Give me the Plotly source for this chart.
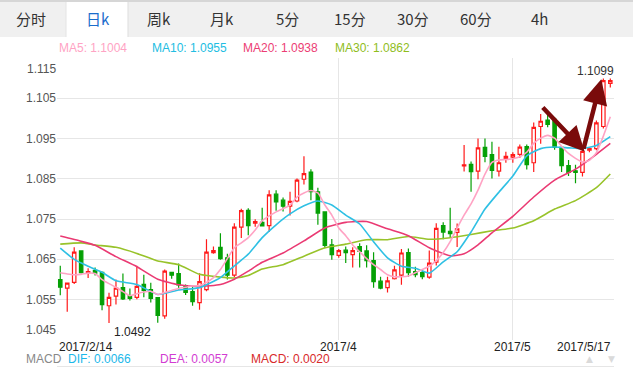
import plotly.graph_objects as go

# ---------------- data ----------------
opens = [1.0600, 1.0579, 1.0593, 1.0671, 1.0617, 1.0623, 1.0618, 1.0535, 1.0559, 1.0580,
         1.0560, 1.0556, 1.0588, 1.0575, 1.0555, 1.0510, 1.0618, 1.0615, 1.0585, 1.0570,
         1.0543, 1.0575, 1.0667, 1.0680, 1.0654, 1.0611, 1.0730, 1.0772, 1.0740, 1.0742,
         1.0734, 1.0812, 1.0797, 1.0782, 1.0795, 1.0849, 1.0867, 1.0818, 1.0768, 1.0686,
         1.0660, 1.0673, 1.0662, 1.0682, 1.0671, 1.0647, 1.0596, 1.0580, 1.0602, 1.0611,
         1.0667, 1.0620, 1.0617, 1.0606, 1.0643, 1.0734, 1.0720, 1.0717, 1.0882, 1.0886,
         1.0869, 1.0928, 1.0910, 1.0869, 1.0901, 1.0904, 1.0911, 1.0930, 1.0890, 1.0980,
         1.0996, 1.0998, 1.0928, 1.0883, 1.0870, 1.0866, 1.0921, 1.0925, 1.0980, 1.1087]
highs = [1.0634, 1.0593, 1.0680, 1.0673, 1.0628, 1.0630, 1.0620, 1.0567, 1.0600, 1.0615,
         1.0578, 1.0634, 1.0612, 1.0592, 1.0557, 1.0625, 1.0618, 1.0640, 1.0588, 1.0582,
         1.0616, 1.0700, 1.0682, 1.0715, 1.0664, 1.0740, 1.0776, 1.0777, 1.0750, 1.0778,
         1.0822, 1.0822, 1.0804, 1.0818, 1.0851, 1.0906, 1.0874, 1.0828, 1.0768, 1.0701,
         1.0676, 1.0682, 1.0680, 1.0690, 1.0685, 1.0668, 1.0607, 1.0607, 1.0634, 1.0676,
         1.0677, 1.0632, 1.0624, 1.0672, 1.0740, 1.0742, 1.0778, 1.0739, 1.0934, 1.0893,
         1.0950, 1.0950, 1.0942, 1.0930, 1.0917, 1.0916, 1.0935, 1.0935, 1.0990, 1.1011,
         1.1018, 1.1003, 1.0930, 1.0897, 1.0885, 1.0929, 1.0928, 1.0995, 1.1099, 1.1099]
lows = [1.0561, 1.0520, 1.0589, 1.0615, 1.0604, 1.0610, 1.0524, 1.0492, 1.0538, 1.0549,
        1.0548, 1.0551, 1.0556, 1.0543, 1.0493, 1.0503, 1.0602, 1.0575, 1.0562, 1.0535,
        1.0525, 1.0571, 1.0664, 1.0649, 1.0600, 1.0606, 1.0703, 1.0710, 1.0731, 1.0733,
        1.0718, 1.0771, 1.0769, 1.0759, 1.0792, 1.0836, 1.0797, 1.0736, 1.0678, 1.0649,
        1.0654, 1.0641, 1.0630, 1.0630, 1.0630, 1.0580, 1.0576, 1.0568, 1.0600, 1.0587,
        1.0607, 1.0606, 1.0601, 1.0602, 1.0635, 1.0700, 1.0704, 1.0681, 1.0868, 1.0818,
        1.0849, 1.0891, 1.0851, 1.0856, 1.0890, 1.0890, 1.0902, 1.0873, 1.0867, 1.0937,
        1.0978, 1.0922, 1.0867, 1.0857, 1.0839, 1.0856, 1.0916, 1.0921, 1.0975, 1.1077]
closes = [1.0581, 1.0591, 1.0668, 1.0617, 1.0620, 1.0616, 1.0538, 1.0556, 1.0579, 1.0552,
          1.0553, 1.0583, 1.0573, 1.0553, 1.0511, 1.0621, 1.0611, 1.0587, 1.0568, 1.0545,
          1.0595, 1.0668, 1.0672, 1.0652, 1.0611, 1.0730, 1.0771, 1.0734, 1.0744, 1.0733,
          1.0810, 1.0793, 1.0782, 1.0794, 1.0847, 1.0863, 1.0818, 1.0765, 1.0685, 1.0662,
          1.0672, 1.0667, 1.0672, 1.0670, 1.0647, 1.0595, 1.0579, 1.0597, 1.0624, 1.0666,
          1.0617, 1.0612, 1.0607, 1.0641, 1.0727, 1.0718, 1.0714, 1.0726, 1.0885, 1.0868,
          1.0927, 1.0906, 1.0871, 1.0890, 1.0906, 1.0910, 1.0929, 1.0885, 1.0978, 1.0993,
          1.0985, 1.0928, 1.0883, 1.0866, 1.0866, 1.0918, 1.0925, 1.0989, 1.1094, 1.1094]
candle_idx = list(range(len(closes)))

ma5_idx = list(range(0, 80))
ma5 = [1.0617, 1.0614, 1.0612, 1.0613, 1.0616, 1.0615, 1.0600, 1.0590, 1.0581, 1.0570,
       1.0560, 1.0565, 1.0569, 1.0571, 1.0563, 1.0568, 1.0573, 1.0578, 1.0581, 1.0584,
       1.0585, 1.0593, 1.0605, 1.0625, 1.0652, 1.0679, 1.0691, 1.0704, 1.0723, 1.0746,
       1.0758, 1.0768, 1.0776, 1.0785, 1.0805, 1.0815, 1.0821, 1.0815, 1.0785, 1.0760,
       1.0728, 1.0709, 1.0686, 1.0669, 1.0652, 1.0637, 1.0625, 1.0612, 1.0607, 1.0607,
       1.0609, 1.0617, 1.0625, 1.0633, 1.0647, 1.0667, 1.0694, 1.0728, 1.0760, 1.0788,
       1.0822, 1.0862, 1.0891, 1.0897, 1.0898, 1.0900, 1.0905, 1.0916, 1.0938, 1.0951,
       1.0958, 1.0951, 1.0931, 1.0913, 1.0901, 1.0892, 1.0896, 1.0915, 1.0956, 1.1004]

ma10_idx = [0, 2, 4, 6, 8, 11, 14, 17, 20, 23, 25, 27, 29, 31, 33, 35, 37, 39, 41, 43,
            45, 47, 49, 51, 53, 55, 57, 59, 61, 63, 65, 67, 69, 71, 73, 75, 77, 79]
ma10 = [1.0678, 1.0650, 1.0633, 1.0618, 1.0597, 1.0588, 1.0563, 1.0574, 1.0580, 1.0605,
        1.0634, 1.0663, 1.0704, 1.0736, 1.0763, 1.0783, 1.0795, 1.0785, 1.0760, 1.0738,
        1.0694, 1.0654, 1.0633, 1.0628, 1.0616, 1.0644, 1.0669, 1.0718, 1.0775, 1.0817,
        1.0857, 1.0907, 1.0925, 1.0929, 1.0927, 1.0925, 1.0933, 1.0955]

ma20_idx = [0, 3, 5, 8, 11, 14, 17, 20, 23, 25, 27, 29, 32, 35, 38, 41, 44, 47, 50, 53,
            56, 58, 60, 62, 65, 68, 71, 74, 77, 79]
ma20 = [1.0708, 1.0695, 1.0685, 1.0657, 1.0632, 1.0601, 1.0587, 1.0583, 1.0588, 1.0601,
        1.0621, 1.0643, 1.0666, 1.0696, 1.0728, 1.0742, 1.0744, 1.0726, 1.0709, 1.0679,
        1.0659, 1.0664, 1.0686, 1.0716, 1.0757, 1.0805, 1.0847, 1.0874, 1.0911, 1.0938]

ma30_idx = [0, 3, 5, 8, 11, 14, 17, 20, 23, 25, 27, 29, 32, 35, 38, 41, 44, 47, 50, 53,
            56, 59, 62, 65, 68, 71, 74, 77, 79]
ma30 = [1.0688, 1.0691, 1.0686, 1.0680, 1.0665, 1.0646, 1.0637, 1.0613, 1.0606, 1.0604,
        1.0610, 1.0626, 1.0637, 1.0658, 1.0679, 1.0688, 1.0699, 1.0699, 1.0707, 1.0700,
        1.0704, 1.0712, 1.0721, 1.0728, 1.0746, 1.0775, 1.0796, 1.0828, 1.0862]

y_ticks = [1.045, 1.055, 1.065, 1.075, 1.085, 1.095, 1.105, 1.115]
y_tick_labels = ["1.045", "1.055", "1.065", "1.075", "1.085", "1.095", "1.105", "1.115"]
date_idx = [0, 40, 65, 79]
date_labels = ["2017/2/14", "2017/4", "2017/5", "2017/5/17"]
grid_idx = [40, 65]

tabs = ["分时", "日k", "周k", "月k", "5分", "15分", "30分", "60分", "4h"]
selected_tab = 1
macd_labels = ["MACD", "DIF: 0.0066", "DEA: 0.0057", "MACD: 0.0020"]

# ---------------- geometry helpers (pixels -> paper) ----------------
W, H = 633, 369
PL, PR, PT, PB = 57, 614, 58, 340
PW, PH = PR - PL, PB - PT


def pxx(x):
    return (x - PL) / PW


def pxy(y):
    return (PB - y) / PH


NUMFONT = "Liberation Sans, Arial, sans-serif"
CJKFONT = "Noto Sans CJK SC, sans-serif"

RED = "#ff1a1a"
GREEN = "#05a005"
C_MA5 = "#ffa3c4"
C_MA10 = "#2fc0e4"
C_MA20 = "#ea3a73"
C_MA30 = "#98c32a"

fig = go.Figure()

fig.add_trace(go.Candlestick(
    x=candle_idx, open=opens, high=highs, low=lows, close=closes,
    increasing=dict(line=dict(color=RED, width=1.2), fillcolor="#ffffff"),
    decreasing=dict(line=dict(color=GREEN, width=1.2), fillcolor=GREEN),
    whiskerwidth=0, showlegend=False, hoverinfo="skip",
))

for xs, ys, col in [(ma30_idx, ma30, C_MA30), (ma20_idx, ma20, C_MA20),
                    (ma10_idx, ma10, C_MA10), (ma5_idx, ma5, C_MA5)]:
    fig.add_trace(go.Scatter(x=xs, y=ys, mode="lines",
                             line=dict(color=col, width=1.6, shape="spline", smoothing=0.5),
                             showlegend=False, hoverinfo="skip"))

annotations = []
shapes = []

# tab bar
shapes.append(dict(type="rect", xref="paper", yref="paper", x0=pxx(0), x1=pxx(W),
                   y0=pxy(37), y1=pxy(0), fillcolor="#f0f0f0", line=dict(width=0), layer="below"))
shapes.append(dict(type="line", xref="paper", yref="paper", x0=pxx(0), x1=pxx(W),
                   y0=pxy(1), y1=pxy(1), line=dict(color="#d6d6d6", width=2)))
shapes.append(dict(type="rect", xref="paper", yref="paper", x0=pxx(66), x1=pxx(128),
                   y0=pxy(37.5), y1=pxy(2), fillcolor="#ffffff", line=dict(width=0), layer="below"))
shapes.append(dict(type="line", xref="paper", yref="paper", x0=pxx(128), x1=pxx(128),
                   y0=pxy(37), y1=pxy(2), line=dict(color="#dddddd", width=1)))
shapes.append(dict(type="line", xref="paper", yref="paper", x0=pxx(66), x1=pxx(66),
                   y0=pxy(37), y1=pxy(2), line=dict(color="#e4e4e4", width=1)))

tab_x = [31, 98, 159, 222, 287, 350, 413, 476, 539]
for i, (t, tx) in enumerate(zip(tabs, tab_x)):
    annotations.append(dict(text=t, xref="paper", yref="paper", x=pxx(tx), y=pxy(19),
                            xanchor="center", yanchor="middle", showarrow=False,
                            font=dict(family=CJKFONT, size=15,
                                      color="#1a6dcc" if i == selected_tab else "#333333")))

# MA legend row
ma_vals = [ma5[-1], ma10[-1], ma20[-1], ma30[-1]]
ma_names = ["MA5", "MA10", "MA20", "MA30"]
ma_cols = [C_MA5, "#22bde2", "#ec3d74", "#8fbd1c"]
ma_lx = [57, 150, 240.5, 332.5]
for n, v, c, lx in zip(ma_names, ma_vals, ma_cols, ma_lx):
    annotations.append(dict(text=f"{n}: {v:.4f}", xref="paper", yref="paper", x=pxx(lx),
                            y=pxy(48), xanchor="left", yanchor="middle", showarrow=False,
                            font=dict(family=NUMFONT, size=12, color=c)))

# y-axis labels
for i, (v, lab) in enumerate(zip(y_ticks, y_tick_labels)):
    if i == len(y_ticks) - 1:
        ya, ys = "top", -2
    elif i == 0:
        ya, ys = "bottom", 1
    else:
        ya, ys = "middle", 0
    annotations.append(dict(text=lab, xref="paper", yref="y", x=0, y=v, xanchor="right",
                            yanchor=ya, yshift=ys, xshift=1, showarrow=False,
                            font=dict(family=NUMFONT, size=12, color="#555555")))

# date labels
for i, (di, lab) in enumerate(zip(date_idx, date_labels)):
    if i == 0:
        xa, xs = "left", -3
    elif i == len(date_idx) - 1:
        xa, xs = "right", 3
    else:
        xa, xs = "center", 0
    annotations.append(dict(text=lab, xref="x", yref="paper", x=di, y=pxy(347),
                            xanchor=xa, xshift=xs, yanchor="middle", showarrow=False,
                            font=dict(family=NUMFONT, size=12, color="#222222")))

# extreme value labels
imax = max(range(len(highs)), key=lambda i: highs[i])
imin = min(range(len(lows)), key=lambda i: lows[i])
annotations.append(dict(text=f"{highs[imax]:.4f}", xref="x", yref="y", x=imax, y=highs[imax],
                        xanchor="center", yanchor="bottom", xshift=-8, yshift=-1, showarrow=False,
                        font=dict(family=NUMFONT, size=12, color="#333333")))
annotations.append(dict(text=f"{lows[imin]:.4f}", xref="x", yref="y", x=imin, y=lows[imin],
                        xanchor="left", yanchor="top", xshift=3, yshift=0, showarrow=False,
                        font=dict(family=NUMFONT, size=12, color="#222222")))

# MACD row
macd_cols = ["#888888", "#1cb8ea", "#d23cd2", "#d82a2a"]
macd_x = [23.5, 66, 158, 249]
for t, c, mx in zip(macd_labels, macd_cols, macd_x):
    annotations.append(dict(text=t, xref="paper", yref="paper", x=pxx(mx), y=pxy(358.5),
                            xanchor="left", yanchor="middle", showarrow=False,
                            font=dict(family=NUMFONT, size=12, color=c)))
for t, mx in [("▲", 589), ("▼", 611)]:
    annotations.append(dict(text=t, xref="paper", yref="paper", x=pxx(mx), y=pxy(359),
                            xanchor="center", yanchor="middle", showarrow=False,
                            font=dict(family="DejaVu Sans", size=9, color="#dadada")))
shapes.append(dict(type="line", xref="paper", yref="paper", x0=pxx(57), x1=pxx(614),
                   y0=pxy(366.5), y1=pxy(366.5), line=dict(color="#e6e6e6", width=1)))

# arrows
ARROW = "#7a0b0b"
annotations.append(dict(text="", x=75.3, y=1.0918, ax=69.1, ay=1.1031, xref="x", yref="y",
                        axref="x", ayref="y", showarrow=True, arrowhead=2, arrowsize=1.1,
                        arrowwidth=4.5, arrowcolor=ARROW, standoff=0))
annotations.append(dict(text="", x=77.7, y=1.1097, ax=75.1, ay=1.0921, xref="x", yref="y",
                        axref="x", ayref="y", showarrow=True, arrowhead=2, arrowsize=1.1,
                        arrowwidth=4.5, arrowcolor=ARROW, standoff=0))

fig.update_layout(
    width=W, height=H,
    margin=dict(l=PL, r=W - PR, t=PT, b=H - PB, pad=0),
    paper_bgcolor="#ffffff", plot_bgcolor="#ffffff",
    showlegend=False,
    annotations=annotations, shapes=shapes,
    xaxis=dict(range=[-0.47, 79.53], showticklabels=False, tickvals=grid_idx,
               showgrid=True, gridcolor="#e6e6e6", gridwidth=1, zeroline=False,
               showline=False, ticks="", rangeslider=dict(visible=False), fixedrange=True),
    yaxis=dict(range=[1.045, 1.115], tickvals=y_ticks, showticklabels=False,
               showgrid=True, gridcolor="#e6e6e6", gridwidth=1, zeroline=False,
               showline=False, ticks="", fixedrange=True),
)

fig.write_html("out.html", config={"displayModeBar": False},
               post_script="document.body.style.margin='0px';document.body.style.overflow='hidden';")
